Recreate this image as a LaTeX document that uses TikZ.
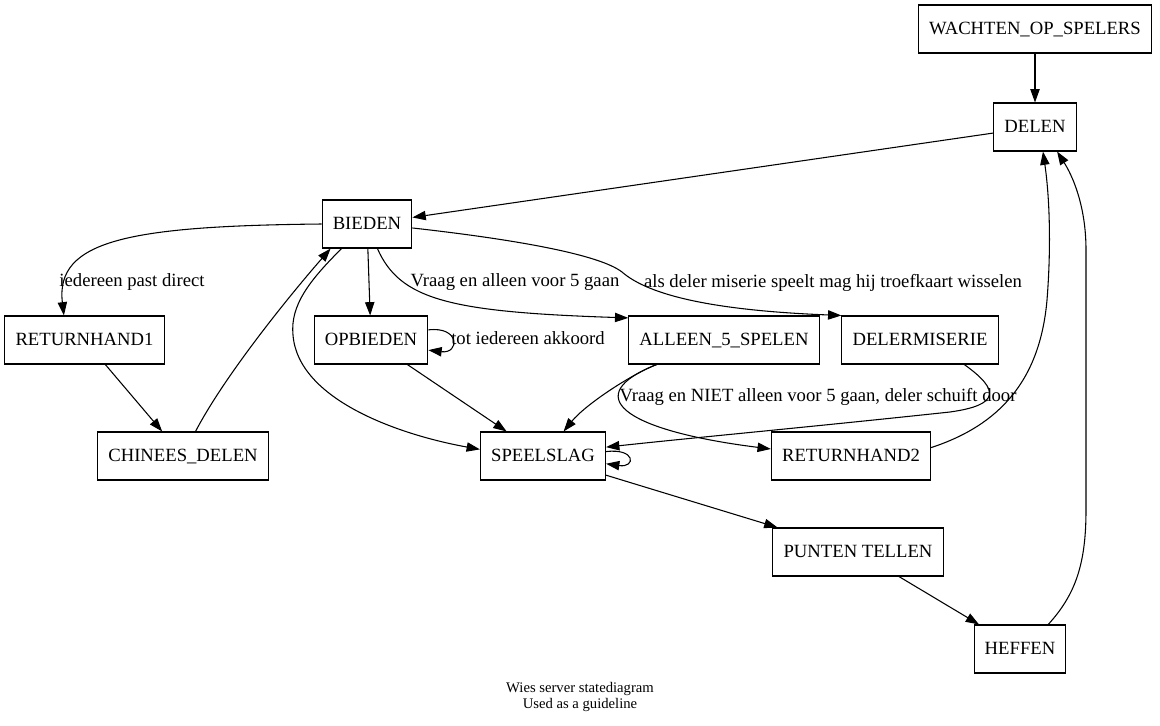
\documentclass[tikz,border=0pt]{standalone}
\usepackage{fontspec}
\setmainfont{Liberation Serif}
\usetikzlibrary{arrows.meta}

\begin{document}
\begin{tikzpicture}[x=0.75pt, y=-0.75pt,
    state/.style={draw, line width=0.8pt, rectangle, minimum height=36pt, inner xsep=8pt, text height=11pt, text depth=3pt, font=\fontsize{14}{16}\selectfont},
    lbl/.style={inner sep=0pt, text height=11pt, text depth=3pt, font=\fontsize{14}{16}\selectfont},
    trans/.style={line width=0.8pt, -{Triangle[length=10pt, width=7pt]}}]
      \useasboundingbox (0,0) rectangle (1160,725);
      \node[state] (wachten) at (1035,29) {WACHTEN\_OP\_SPELERS};
      \node[state] (delen) at (1035,127) {DELEN};
      \node[state] (bieden) at (367,224) {BIEDEN};
      \node[state] (returnhand1) at (84.5,340) {RETURNHAND1};
      \node[state] (opbieden) at (371,340) {OPBIEDEN};
      \node[state] (alleen) at (724,340) {ALLEEN\_5\_SPELEN};
      \node[state] (delermiserie) at (920,340) {DELERMISERIE};
      \node[state] (chinees) at (183,456) {CHINEES\_DELEN};
      \node[state] (speelslag) at (543,456) {SPEELSLAG};
      \node[state] (returnhand2) at (851,456) {RETURNHAND2};
      \node[state] (punten) at (858,552) {PUNTEN TELLEN};
      \node[state] (heffen) at (1020,649) {HEFFEN};
      \node[lbl] (lpast) at (132,281) {iedereen past direct};
      \node[lbl] (lalleen) at (515,281) {Vraag en alleen voor 5 gaan};
      \node[lbl] (lmiserie) at (833,282) {als deler miserie speelt mag hij troefkaart wisselen};
      \node[lbl] (lakkoord) at (528,339) {tot iedereen akkoord};
      \node[lbl] (lniet) at (818,396) {Vraag en NIET alleen voor 5 gaan, deler schuift door};
      \node[align=center, inner sep=0pt, font=\fontsize{11}{12}\selectfont] (caption) at (580,697) {Wies server statediagram\\Used as a guideline};
      \draw[trans] (wachten) -- (delen);
      \draw[trans] (delen) -- (bieden);
      \draw[trans] (bieden.west) .. controls (130,226) and (55,240) .. (returnhand1.130);
      \draw[trans] (returnhand1) -- (chinees);
      \draw[trans] (chinees.63) .. controls (225,375) and (290,295) .. (bieden.214);
      \draw[trans] (bieden) -- (opbieden);
      \draw[trans] (opbieden.10) .. controls (460,326) and (460,354) .. (opbieden.-10);
      \draw[trans] (opbieden) -- (speelslag);
      \draw[trans] (bieden.224) .. controls (310,280) and (290,305) .. (293,335) .. controls (298,400) and (400,435) .. (speelslag.174);
      \draw[trans] (bieden.-67) .. controls (400,300) and (450,312) .. (alleen.167);
      \draw[trans] (bieden.-5) .. controls (520,240) and (600,255) .. (622,272) .. controls (645,292) and (700,310) .. (delermiserie.north west);
      \draw[trans] (alleen.200) .. controls (630,375) and (585,405) .. (speelslag.50);
      \draw[trans] (alleen.200) .. controls (580,395) and (620,430) .. (returnhand2.175);
      \draw[trans] (delermiserie.-29) .. controls (1000,390) and (1000,405) .. (950,412) .. controls (800,428) and (700,437) .. (speelslag.8);
      \draw[trans] (speelslag.4) .. controls (636,448) and (636,468) .. (speelslag.-7);
      \draw[trans] (speelslag) -- (punten);
      \draw[trans] (punten) -- (heffen);
      \draw[trans] (heffen.41) .. controls (1075,595) and (1086,565) .. (1086,510) -- (1086,250) .. controls (1086,205) and (1072,175) .. (delen.-48);
      \draw[trans] (returnhand2.6) .. controls (1000,425) and (1040,380) .. (1047,300) .. controls (1051,250) and (1050,200) .. (delen.-72);
\end{tikzpicture}
\end{document}
